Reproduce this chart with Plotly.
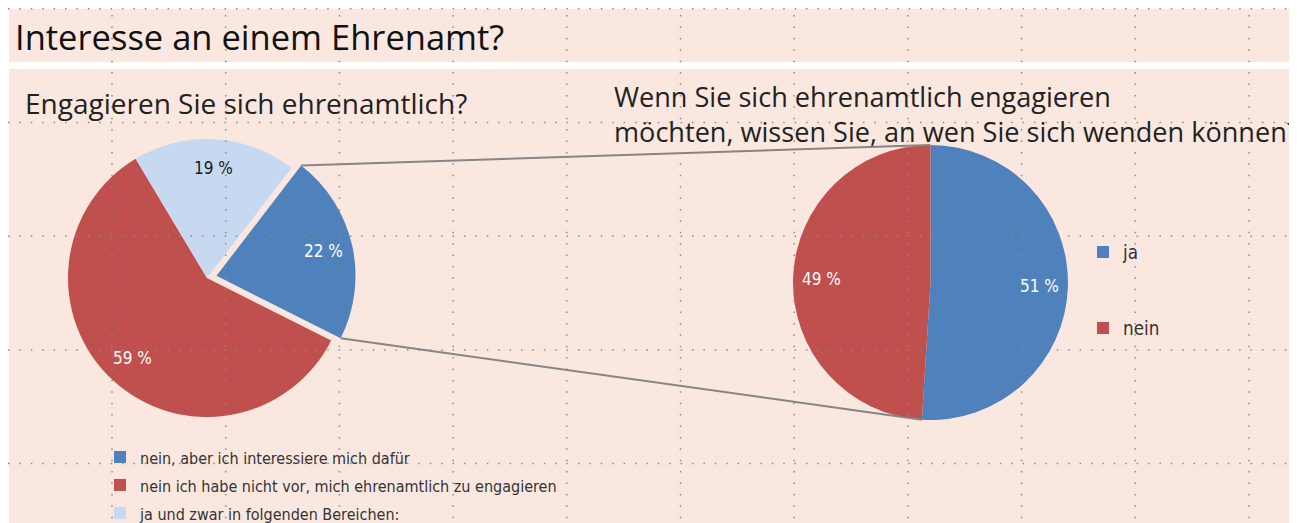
import math
import plotly.graph_objects as go

# page body has an 8px margin; positions below are read in screen pixels
OFF = 8
W, H = 1297 - OFF, 533

# ---- data ----
left_labels = ["nein, aber ich interessiere mich dafür",
               "nein ich habe nicht vor, mich ehrenamtlich zu engagieren",
               "ja und zwar in folgenden Bereichen:"]
left_values = [22, 59, 19]
left_colors = ["#4F81BD", "#C0504D", "#C6D9F1"]
left_text_colors = ["#FFFFFF", "#FFFFFF", "#1A1A1A"]
left_pull = [0.07, 0, 0]

right_labels = ["ja", "nein"]
right_values = [51, 49]
right_colors = ["#4F81BD", "#C0504D"]
right_text_colors = ["#FFFFFF", "#FFFFFF"]

title_text = "Interesse an einem Ehrenamt?"
left_question = "Engagieren Sie sich ehrenamtlich?"
right_question_lines = ["Wenn Sie sich ehrenamtlich engagieren",
                        "möchten, wissen Sie, an wen Sie sich wenden können?"]

# ---- layout helpers (screen pixel -> paper) ----
def px(x):
    return (x - OFF) / W

def py(y):
    return 1 - (y - OFF) / H

PINK = "#FAE8E0"
FONT = "Open Sans"
COND = "DejaVu Sans Condensed, Roboto, sans-serif"

# pie geometry (screen px)
L_CX, L_CY, L_R = 207, 278, 139
L_ROT = 37.5
L_HALF = L_R * (1 + max(left_pull))
R_CX, R_CY, R_R = 930.5, 282.5, 137.5
LABEL_R = 0.79

fig = go.Figure()

fig.add_trace(go.Pie(
    labels=['<span style="font-size:16px">%s</span>' % l for l in left_labels],
    values=left_values, sort=False, direction="clockwise",
    rotation=L_ROT, pull=left_pull,
    marker=dict(colors=left_colors, line=dict(width=0)),
    textinfo="none",
    domain=dict(x=[px(L_CX - L_HALF), px(L_CX + L_HALF)],
                y=[py(L_CY + L_HALF), py(L_CY - L_HALF)]),
    legend="legend", hoverinfo="percent",
))

fig.add_trace(go.Pie(
    labels=[l + "<br>\u00a0<br>\u00a0" for l in right_labels], values=right_values,
    sort=False, direction="clockwise", rotation=0,
    marker=dict(colors=right_colors, line=dict(width=0)),
    textinfo="none",
    domain=dict(x=[px(R_CX - R_R), px(R_CX + R_R)],
                y=[py(R_CY + R_R), py(R_CY - R_R)]),
    legend="legend2", hoverinfo="percent",
))

shapes = []
annotations = []
# background panels
shapes.append(dict(type="rect", xref="paper", yref="paper", layer="below",
                   x0=px(9), x1=1, y0=py(62), y1=py(9),
                   fillcolor=PINK, line=dict(width=0)))
shapes.append(dict(type="rect", xref="paper", yref="paper", layer="below",
                   x0=px(9), x1=1, y0=0, y1=py(69),
                   fillcolor=PINK, line=dict(width=0)))


def slice_geometry(values, rot_deg, cx, cy, r, pulls):
    """Start/end angles (clockwise from 12 o'clock) and pulled centres."""
    tot = float(sum(values))
    a = math.radians(rot_deg)
    out = []
    for v, p in zip(values, pulls):
        a0, a1 = a, a + 2 * math.pi * v / tot
        am = (a0 + a1) / 2
        ox = cx + p * r * math.sin(am)
        oy = cy - p * r * math.cos(am)
        out.append((a0, a1, am, ox, oy))
        a = a1
    return out


lg = slice_geometry(left_values, L_ROT, L_CX, L_CY, L_R, left_pull)
rg = slice_geometry(right_values, 0, R_CX, R_CY, R_R, [0] * len(right_values))

# slice value labels
for geo, vals, cols, r in [(lg, left_values, left_text_colors, L_R),
                           (rg, right_values, right_text_colors, R_R)]:
    for (a0, a1, am, ox, oy), v, c in zip(geo, vals, cols):
        annotations.append(dict(
            text="%d %%" % v, x=px(ox + LABEL_R * r * math.sin(am)),
            y=py(oy - LABEL_R * r * math.cos(am)), xref="paper", yref="paper",
            showarrow=False, xanchor="center", yanchor="middle",
            font=dict(family=COND, size=17, color=c)))

# connector lines from the pulled slice to the right pie
a0, a1, am, ox, oy = lg[0]
p_top = (ox + L_R * math.sin(a0), oy - L_R * math.cos(a0))
p_bot = (ox + L_R * math.sin(a1), oy - L_R * math.cos(a1))
b1 = rg[0][1]
q_top = (R_CX, R_CY - R_R)
q_bot = (R_CX + R_R * math.sin(b1), R_CY - R_R * math.cos(b1))
for p, q in [(p_top, q_top), (p_bot, q_bot)]:
    shapes.append(dict(type="line", xref="paper", yref="paper", layer="above",
                       x0=px(p[0]), y0=py(p[1]), x1=px(q[0]), y1=py(q[1]),
                       line=dict(color="#858585", width=2)))

# dotted drawing grid
GRID = 113.7
DOT = dict(color="#8A8A8A", width=1.5, dash="1.5px,9.9px")
gx = 112.0
while gx < 1297:
    shapes.append(dict(type="line", xref="paper", yref="paper", layer="above",
                       x0=px(gx), x1=px(gx), y0=0, y1=1, line=DOT))
    gx += GRID
gy = 8.8
while gy < 523:
    shapes.append(dict(type="line", xref="paper", yref="paper", layer="above",
                       x0=0, x1=1, y0=py(gy), y1=py(gy), line=DOT))
    gy += GRID

annotations += [
    dict(text=title_text, x=px(13), y=py(37), xref="paper", yref="paper",
         xanchor="left", yanchor="middle", showarrow=False,
         font=dict(family=FONT, size=34.5, color="#111111")),
    dict(text=left_question, x=px(23), y=py(103), xref="paper", yref="paper",
         xanchor="left", yanchor="middle", showarrow=False,
         font=dict(family=FONT, size=28, color="#222222")),
    dict(text="<br>".join(right_question_lines), x=px(612), y=py(113.5),
         xref="paper", yref="paper", align="left",
         xanchor="left", yanchor="middle", showarrow=False,
         font=dict(family=FONT, size=27.1, color="#222222")),
]

fig.update_layout(
    width=W, height=H, margin=dict(l=0, r=0, t=0, b=0),
    paper_bgcolor="#FFFFFF", plot_bgcolor="#FFFFFF",
    shapes=shapes, annotations=annotations,
    legend=dict(x=px(100), y=py(438), xanchor="left", yanchor="top",
                bgcolor="rgba(0,0,0,0)", itemwidth=30, traceorder="normal",
                font=dict(family=COND, size=19.2, color="#333333")),
    legend2=dict(x=px(1083), y=py(233.3), xanchor="left", yanchor="top",
                 bgcolor="rgba(0,0,0,0)", itemwidth=30, valign="top",
                 font=dict(family=COND, size=18.7, color="#333333")),
)

fig.write_html("out.html")
